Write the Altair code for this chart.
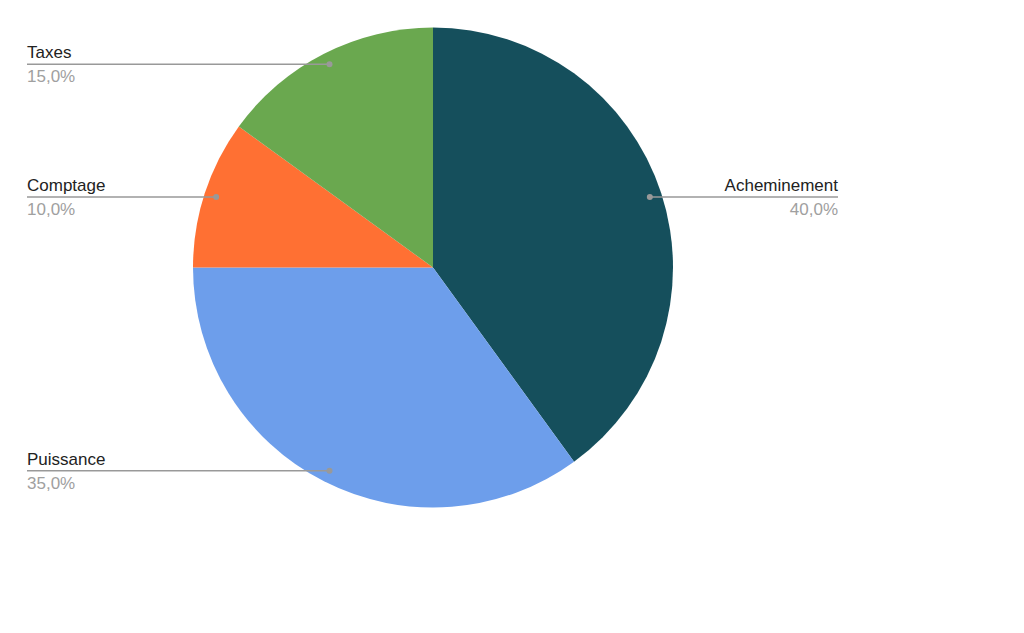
import altair as alt
import pandas as pd

categories = ["Acheminement", "Puissance", "Comptage", "Taxes"]
values = [40, 35, 10, 15]
colors = ["#154f5c", "#6d9eeb", "#ff7033", "#6aa84f"]

df = pd.DataFrame({"cat": categories, "value": values, "idx": list(range(len(categories)))})

CX, CY, R = 425, 259.5, 240
DOT_R = 228
LEFT_X, RIGHT_X = 19, 830
FONT = "Liberation Sans, Arial, sans-serif"

base = alt.Chart(df)

pie = base.mark_arc(outerRadius=R, stroke=None).encode(
    theta=alt.Theta("value:Q", stack=True),
    color=alt.Color("cat:N", scale=alt.Scale(domain=categories, range=colors), legend=None),
    order=alt.Order("idx:Q"),
    x=alt.value(CX),
    y=alt.value(CY),
)

calc = (
    base.transform_window(cum="sum(value)", sort=[alt.SortField("idx")], frame=[None, 0])
    .transform_joinaggregate(total="sum(value)")
    .transform_calculate(mid="(datum.cum - datum.value/2) / datum.total * 2 * PI")
    .transform_calculate(
        dotx=f"{CX} + {DOT_R} * sin(datum.mid)",
        doty=f"{CY} - {DOT_R} * cos(datum.mid)",
        right="sin(datum.mid) > 0",
        pct="replace(format(datum.value / datum.total, '.1%'), '.', ',')",
    )
    .transform_calculate(labelx=f"datum.right ? {RIGHT_X} : {LEFT_X}")
)

lines = calc.mark_rule(color="#999999", strokeWidth=1.5).encode(
    x=alt.X("dotx:Q", scale=None),
    x2="labelx:Q",
    y=alt.Y("doty:Q", scale=None),
)
dots = calc.mark_circle(color="#999999", opacity=1, size=36).encode(
    x=alt.X("dotx:Q", scale=None),
    y=alt.Y("doty:Q", scale=None),
)

def labels(side_right):
    filt = "datum.right" if side_right else "!datum.right"
    align = "right" if side_right else "left"
    sub = calc.transform_filter(filt)
    name = sub.mark_text(align=align, baseline="alphabetic", font=FONT, fontSize=17, color="#222222", dy=-6).encode(
        x=alt.X("labelx:Q", scale=None),
        y=alt.Y("doty:Q", scale=None),
        text="cat:N",
    )
    pct = sub.mark_text(align=align, baseline="alphabetic", font=FONT, fontSize=17, color="#a0a0a0", dy=18).encode(
        x=alt.X("labelx:Q", scale=None),
        y=alt.Y("doty:Q", scale=None),
        text="pct:N",
    )
    return name + pct

chart = alt.layer(pie, lines, dots, labels(False), labels(True)).properties(
    width=1000, height=610, autosize=alt.AutoSizeParams(type="none"), padding=0
).configure_view(stroke=None)

chart.save("out.html", embed_options={"renderer": "svg", "actions": False})
